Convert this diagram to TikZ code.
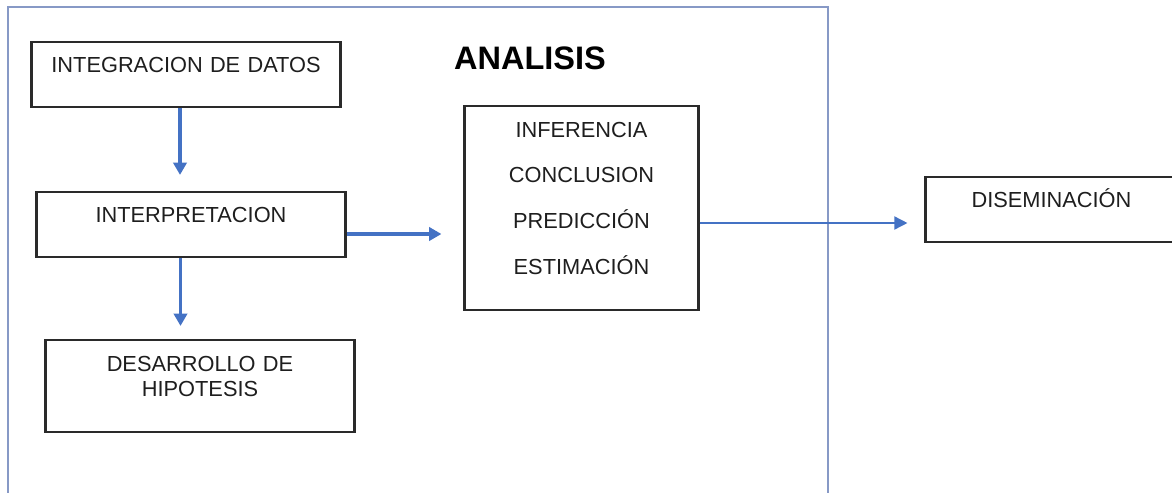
\documentclass[tikz,border=0pt]{standalone}
\usepackage{fontspec}
\setmainfont{Liberation Sans}
\usepackage{tikz}
\usetikzlibrary{arrows.meta, positioning, calc}
\definecolor{azul}{HTML}{4472C4}
\definecolor{marcoazul}{HTML}{8799C6}
\definecolor{borde}{HTML}{2A2A2A}
\definecolor{letra}{HTML}{1E1E1E}
\tikzstyle{paso} = [rectangle, minimum width=6.18cm, minimum height=1.3cm, text width=5.6cm, align=center, text height=0.3cm, text depth=0.38cm, draw=borde, line width=1.2pt, text=letra, font=\fontsize{12.4}{14.74}\selectfont]
\tikzstyle{lista} = [rectangle, minimum width=4.68cm, minimum height=4.08cm, text width=4.2cm, align=center, text height=0.3cm, text depth=3.14cm, draw=borde, line width=1.2pt, text=letra, font=\fontsize{12.4}{26}\selectfont]
\tikzstyle{titulo} = [text=black, font=\fontsize{18.5}{22}\bfseries]
\tikzstyle{marco} = [rectangle, minimum width=16.4cm, minimum height=10.46cm, draw=marcoazul, line width=1.2pt]

\begin{document}
\begin{tikzpicture}[node distance=3cm]
\useasboundingbox (0,0) rectangle (23.44,-9.84);
\clip (0,0) rectangle (23.44,-9.84);
\node (cuadro) [marco] at (8.36,-5.37) {};
\node (int) [paso] at (3.72,-1.49) {INTEGRACION DE DATOS};
\node (interp) [paso, below of=int, xshift=0.1cm] {INTERPRETACION};
\node (hip) [paso, below of=interp, xshift=0.18cm, yshift=-0.23cm, minimum height=1.84cm, text depth=0.9cm] {DESARROLLO DE\\HIPOTESIS};
\node (inf) [lista, right of=interp, xshift=4.81cm, yshift=0.33cm] {INFERENCIA\\CONCLUSION\\PREDICCIÓN\\ESTIMACIÓN};
\node (analisis) [titulo, above of=inf, xshift=-1.03cm] {ANALISIS};
\node (dis) [paso, right of=inf, xshift=6.4cm, yshift=-0.03cm, minimum width=5.04cm, text width=4.6cm] {DISEMINACIÓN};
\coordinate (s1) at ([xshift=-0.12cm]int.south);
\coordinate (s2) at ([xshift=-0.21cm]interp.south);
\coordinate (s3) at ([yshift=-0.19cm]interp.east);
\coordinate (s4) at ([yshift=-0.3cm]inf.east);
\draw[azul, line width=2pt, shorten >=0.32cm, -{Triangle[length=7pt, width=7.5pt]}] (s1) -- (s1 |- interp.north);
\draw[azul, line width=2pt, shorten >=0.26cm, -{Triangle[length=7pt, width=7.5pt]}] (s2) -- (s2 |- hip.north);
\draw[azul, line width=1.8pt, shorten >=0.44cm, -{Triangle[length=7pt, width=7.5pt]}] (s3) -- (s3 -| inf.west);
\draw[azul, line width=0.9pt, shorten >=0.34cm, -{Triangle[length=7.5pt, width=7.5pt]}] (s4) -- (s4 -| dis.west);
\end{tikzpicture}
\end{document}
